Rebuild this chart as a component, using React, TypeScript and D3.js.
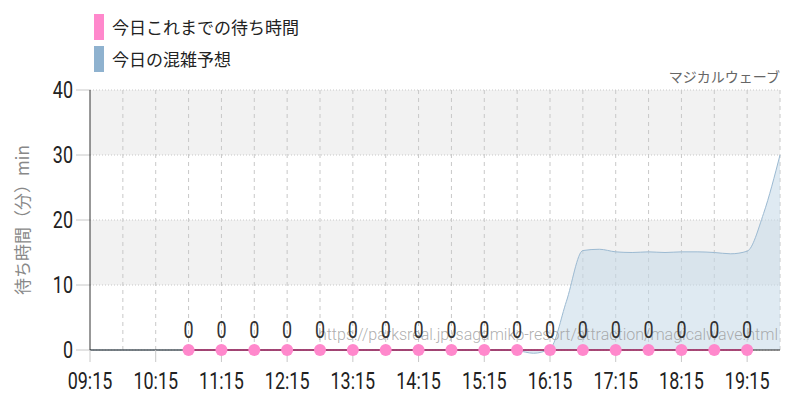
import * as d3 from 'd3';

// Today's waiting time so far (30-min samples)
const actualTimes = [
  '10:45', '11:15', '11:45', '12:15', '12:45', '13:15', '13:45', '14:15', '14:45',
  '15:15', '15:45', '16:15', '16:45', '17:15', '17:45', '18:15', '18:45', '19:15',
];
const actualValues = [0, 0, 0, 0, 0, 0, 0, 0, 0, 0, 0, 0, 0, 0, 0, 0, 0, 0];

// Today's congestion forecast (15-min samples)
const forecastTimes = [
  '09:15', '09:30', '09:45', '10:00', '10:15', '10:30', '10:45', '11:00', '11:15', '11:30',
  '11:45', '12:00', '12:15', '12:30', '12:45', '13:00', '13:15', '13:30', '13:45', '14:00',
  '14:15', '14:30', '14:45', '15:00', '15:15', '15:30', '15:45', '16:00', '16:15', '16:30',
  '16:45', '17:00', '17:15', '17:30', '17:45', '18:00', '18:15', '18:30', '18:45', '19:00',
  '19:15', '19:30', '19:45',
];
const forecastValues = [
  0, 0, 0, 0, 0, 0, 0, 0, 0, 0,
  0, 0, 0, 0, 0, 0, 0, 0, 0, 0,
  0, 0, 0, 0, 0, 0, -0.1, -0.5, 0.2, 7.5,
  15.3, 15.5, 15.1, 15, 15.1, 15, 15.1, 15.1, 15, 14.8,
  15.2, 21, 30,
];

const yTicks = [0, 10, 20, 30, 40];
const xTickLabels = [
  '09:15', '10:15', '11:15', '12:15', '13:15', '14:15', '15:15', '16:15', '17:15', '18:15', '19:15',
];
const xGridLabels = [
  '09:45', '10:15', '10:45', '11:15', '11:45', '12:15', '12:45', '13:15', '13:45', '14:15', '14:45',
  '15:15', '15:45', '16:15', '16:45', '17:15', '17:45', '18:15', '18:45', '19:15', '19:45',
];
const bands = [[10, 20], [30, 40]];

const legendItems = [
  { label: '今日これまでの待ち時間', color: '#ff88cc' },
  { label: '今日の混雑予想', color: '#8fb2cf' },
];

const parseTime = (s: string) => {
  const [h, m] = s.split(':').map(Number);
  return h * 60 + m;
};

const W = 800;
const H = 400;
const margin = { top: 90, right: 20, bottom: 50, left: 90 };

const numFont = 'Roboto, sans-serif';
const jpFont = '"Noto Sans CJK JP", "Noto Sans", sans-serif';

// condensed-looking number label
function Num({
  x,
  y,
  anchor,
  children,
  fill = '#222',
}: {
  x: number;
  y: number;
  anchor: string;
  children: any;
  fill?: string;
}) {
  return (
    <text
      transform={`translate(${x},${y}) scale(0.78,1)`}
      textAnchor={anchor}
      fontFamily={numFont}
      fontSize={23}
      fill={fill}
    >
      {children}
    </text>
  );
}

export default function App() {
  const x = d3
    .scaleLinear()
    .domain([parseTime('09:15'), parseTime('19:45')])
    .range([margin.left, W - margin.right]);
  const y = d3
    .scaleLinear()
    .domain([0, 40])
    .range([H - margin.bottom, margin.top]);

  const forecast = forecastTimes.map((t, i) => ({ t: parseTime(t), v: forecastValues[i] }));
  const actual = actualTimes.map((t, i) => ({ t: parseTime(t), v: actualValues[i] }));

  const area = d3
    .area<{ t: number; v: number }>()
    .x((d) => x(d.t))
    .y0(y(0))
    .y1((d) => y(d.v))
    .curve(d3.curveMonotoneX);
  const line = d3
    .line<{ t: number; v: number }>()
    .x((d) => x(d.t))
    .y((d) => y(d.v))
    .curve(d3.curveMonotoneX);
  const actualLine = d3
    .line<{ t: number; v: number }>()
    .x((d) => x(d.t))
    .y((d) => y(d.v));

  const x0 = margin.left;
  const x1 = W - margin.right;

  return (
    <svg
      width={W}
      height={H}
      style={{ position: 'fixed', left: 0, top: 0, background: '#fff' }}
    >
      {/* legend */}
      {legendItems.map((d, i) => (
        <g key={d.label} transform={`translate(94,${14 + i * 32})`}>
          <rect x={0} y={0} width={10} height={26} fill={d.color} />
          <text x={18} y={20} fontFamily={jpFont} fontSize={17} fill="#222">
            {d.label}
          </text>
        </g>
      ))}

      {/* background bands */}
      {bands.map(([a, b]) => (
        <rect key={a} x={x0} width={x1 - x0} y={y(b)} height={y(a) - y(b)} fill="#f2f2f2" />
      ))}

      {/* horizontal grid */}
      {yTicks.map((v) => (
        <g key={v}>
          <line x1={x0} x2={x1} y1={y(v)} y2={y(v)} stroke="#c8c8c8" strokeDasharray="1,2" />
          <line x1={x0 - 14} x2={x0} y1={y(v)} y2={y(v)} stroke="#c8c8c8" />
          <Num x={x0 - 17} y={y(v) + 8} anchor="end">
            {v}
          </Num>
        </g>
      ))}

      {/* vertical grid */}
      {xGridLabels.map((t) => (
        <line
          key={t}
          x1={x(parseTime(t))}
          x2={x(parseTime(t))}
          y1={y(40)}
          y2={y(0)}
          stroke="#c8c8c8"
          strokeDasharray="4,4"
        />
      ))}

      {/* forecast area */}
      <path d={area(forecast) ?? ''} fill="#c5d8e8" fillOpacity={0.55} />
      <path d={line(forecast) ?? ''} fill="none" stroke="#9cbad2" strokeWidth={1} />

      {/* axes */}
      <line x1={x0} x2={x0} y1={y(40)} y2={y(0)} stroke="#333" />
      <line x1={x0} x2={x1} y1={y(0)} y2={y(0)} stroke="#222" />
      {xTickLabels.map((t) => (
        <g key={t}>
          <line
            x1={x(parseTime(t))}
            x2={x(parseTime(t))}
            y1={y(0)}
            y2={y(0) + 12}
            stroke="#c8c8c8"
          />
          <Num x={x(parseTime(t))} y={H - 11} anchor="middle">
            {t}
          </Num>
        </g>
      ))}

      {/* watermark */}
      <text
        x={778}
        y={340}
        textAnchor="end"
        fontFamily="Roboto, sans-serif"
        fontWeight={300}
        fontSize={16}
        fill="#999"
        fillOpacity={0.8}
      >
        https://parksreal.jp/sagamiko-resort/attraction/magicalwave.html
      </text>

      {/* actual */}
      <path d={actualLine(actual) ?? ''} fill="none" stroke="#b0306e" strokeWidth={1.5} />
      {actual.map((d) => (
        <g key={d.t}>
          <circle cx={x(d.t)} cy={y(d.v)} r={6} fill="#ff88cc" />
          <Num x={x(d.t)} y={y(d.v) - 12} anchor="middle" fill="#333">
            {d.v}
          </Num>
        </g>
      ))}

      {/* titles */}
      <text
        x={x1}
        y={82}
        textAnchor="end"
        fontFamily={jpFont}
        fontSize={14}
        fill="#666"
      >
        マジカルウェーブ
      </text>
      <text
        transform={`translate(29,${(y(0) + y(40)) / 2}) rotate(-90)`}
        textAnchor="middle"
        fontFamily={jpFont}
        fontSize={17}
        fill="#888"
      >
        待ち時間（分）min
      </text>
    </svg>
  );
}
